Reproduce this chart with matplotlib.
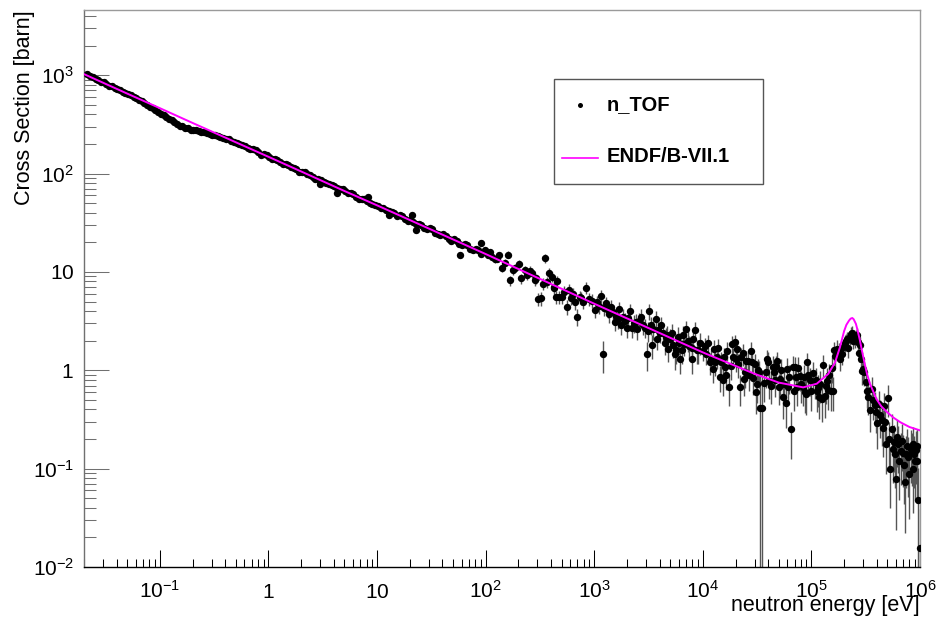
import numpy as np
import matplotlib
matplotlib.use("Agg")
import matplotlib.pyplot as plt
from matplotlib.ticker import FixedLocator, LogLocator, NullFormatter
from matplotlib.patches import Rectangle
from matplotlib.lines import Line2D

plt.rcParams['font.family'] = ['Liberation Sans', 'DejaVu Sans']
plt.rcParams['mathtext.fontset'] = 'custom'
plt.rcParams['mathtext.rm'] = 'Liberation Sans'
plt.rcParams['mathtext.it'] = 'Liberation Sans:italic'
plt.rcParams['mathtext.bf'] = 'Liberation Sans:bold'
plt.rcParams['mathtext.default'] = 'regular'

# ---------------- data ----------------
# n_TOF, thermal / epithermal region (error bars hidden by markers)
e_low = [0.0215, 0.0241, 0.0271, 0.0304, 0.0341, 0.0383, 0.0429, 0.0482, 0.0540, 0.0606,
         0.0680, 0.0763, 0.0856, 0.0961, 0.108, 0.121, 0.136, 0.152, 0.171, 0.192,
         0.215, 0.241, 0.271, 0.304, 0.341, 0.383, 0.429, 0.482, 0.540, 0.606,
         0.680, 0.763, 0.856, 0.961, 1.08, 1.21, 1.36, 1.52, 1.71, 1.92,
         2.15, 2.41, 2.71, 3.04, 3.41, 3.83, 4.29, 4.82, 5.40, 6.06,
         6.80, 7.63, 8.56, 9.61, 10.8, 12.1, 13.6, 15.2, 17.1, 19.2,
         21.5, 24.1, 27.1, 30.4, 34.1, 38.3, 42.9, 48.2, 54.0, 60.6,
         68.0, 76.3, 85.6, 2.95, 4.3, 8.2, 13.0, 21.0, 23.0, 57.5]
xs_low = [1035, 960, 885, 845, 785, 746, 705, 660, 628, 588,
          545, 502, 465, 424, 395, 362, 336, 307, 293, 280,
          274, 265, 260, 244, 242, 231, 223, 208, 201, 190,
          177, 172, 156, 154, 140, 138, 124, 122, 113, 104,
          103, 96, 88, 87, 80, 77, 70.5, 69, 63, 61.5,
          55.5, 55.5, 50, 48, 45, 43, 41, 37, 37, 33.3,
          32, 31, 27.8, 27.8, 25, 23.8, 23.4, 20.8, 20.7, 18.8,
          18.8, 16.7, 16.6, 78, 64, 58, 37.5, 37.5, 26.4, 15.0]
e_low2 = [0.0228, 0.0256, 0.0287, 0.0322, 0.0361, 0.0405, 0.0455, 0.0510, 0.0572, 0.0642,
          0.0720, 0.0808, 0.0907, 0.102, 0.114, 0.128, 0.144, 0.161, 0.181, 0.203,
          0.228, 0.256, 0.287, 0.322, 0.361, 0.405, 0.455, 0.510, 0.572, 0.642,
          0.720, 0.808, 0.907, 1.02, 1.14, 1.28, 1.44, 1.61, 1.81, 2.03,
          2.28, 2.56, 2.87, 3.22, 3.61, 4.05, 4.55, 5.10, 5.72, 6.42,
          7.20, 8.08, 9.07, 10.2, 11.4, 12.8, 14.4, 16.1, 18.1, 20.3,
          22.8, 25.6, 28.7, 32.2, 36.1, 40.5, 45.5, 51.0, 57.2, 64.2,
          72.0, 80.8, 90.7]
xs_low2 = [985, 915, 860, 805, 775, 726, 678, 645, 604, 560,
           522, 478, 441, 407, 376, 347, 316, 302, 288, 275,
           269, 263, 254, 244, 238, 227, 216, 204, 195, 184,
           176, 164, 157, 146, 141, 130, 124, 117, 112, 103.5,
           98.7, 93, 89, 82, 78.4, 74.8, 69.2, 66, 63, 58.2,
           55.5, 53, 49, 46.6, 44.5, 41.2, 39.3, 37.9, 34.3, 33.8,
           30.6, 30.3, 27, 27.1, 24.3, 24.1, 21.4, 21.5, 19.3, 19,
           17, 17.1, 15.3]

# n_TOF, 90 eV - 10 keV
e_mid = [91, 98, 104, 109, 115, 121, 127, 134, 142, 150, 159, 169, 178, 188, 202, 212, 229,
         240, 254, 270, 283, 290, 305, 326, 335, 350, 365, 380, 405, 424, 430, 448, 452, 478,
         510, 530, 560, 580, 615, 640, 660, 700, 735, 750, 780, 835, 890, 960, 1010, 1100,
         1160, 1200, 1280, 1340, 1440, 1500, 1550, 1650, 1780, 1850, 1990, 2150, 2330, 2400,
         2500, 2720, 2800, 2930, 3050, 3200, 3400, 3500, 3670, 3850, 4000, 4300, 4550, 4800,
         5000, 5300, 5700, 6000, 6400, 6700, 7000, 7300, 7900, 8000, 8500, 8800, 9100,
         1050, 1230, 1380, 1600, 1700, 1920, 2050, 2250, 2600, 3100, 3300, 3750, 4150, 4450,
         4700, 5150, 5500, 5900, 6200, 6550, 7500, 8200, 9400]
xs_mid = [19.5, 16.6, 15.0, 15.9, 14.2, 13.5, 13.6, 14.7, 11.0, 12.4, 15.0, 8.2, 10.4, 11.0, 12.0, 8.6, 10.4,
          9.2, 10.3, 9.8, 8.3, 8.6, 5.3, 5.4, 7.6, 13.8, 7.9, 9.8, 8.9, 6.8, 7.1, 5.6, 8.0, 5.6,
          5.5, 6.3, 4.4, 6.6, 5.4, 5.9, 4.9, 3.5, 5.5, 5.4, 5.0, 6.9, 5.3, 5.1, 4.1, 4.5,
          5.7, 1.46, 4.8, 4.1, 4.4, 3.9, 3.1, 3.3, 2.9, 3.5, 2.7, 4.0, 3.0, 3.1,
          2.6, 3.5, 2.9, 2.7, 1.46, 4.0, 1.8, 2.6, 3.3, 2.55, 2.4, 2.4, 2.2, 1.65,
          2.1, 1.8, 1.6, 1.9, 1.6, 1.85, 2.6, 2.0, 1.3, 1.7, 2.55, 1.6, 1.6,
          4.9, 4.3, 3.7, 3.6, 4.2, 3.2, 3.4, 2.7, 3.2, 2.5, 2.9, 2.1, 2.9, 1.9,
          2.3, 2.4, 1.45, 2.2, 1.3, 2.3, 1.75, 2.1, 1.9]
rel_err_mid = [0.06, 0.06, 0.07, 0.07, 0.08, 0.08, 0.08, 0.07, 0.10, 0.09, 0.08, 0.12, 0.10, 0.10, 0.10, 0.12, 0.11,
               0.11, 0.11, 0.12, 0.13, 0.12, 0.16, 0.16, 0.14, 0.10, 0.13, 0.12, 0.12, 0.14, 0.13, 0.15, 0.13, 0.15,
               0.15, 0.14, 0.17, 0.14, 0.15, 0.15, 0.16, 0.20, 0.15, 0.15, 0.16, 0.14, 0.16, 0.16, 0.18, 0.17,
               0.15, 0.35, 0.17, 0.18, 0.18, 0.18, 0.20, 0.20, 0.21, 0.19, 0.22, 0.18, 0.21, 0.20,
               0.22, 0.20, 0.21, 0.22, 0.32, 0.18, 0.28, 0.22, 0.20, 0.22, 0.22, 0.23, 0.23, 0.27,
               0.24, 0.26, 0.27, 0.25, 0.27, 0.25, 0.22, 0.24, 0.30, 0.26, 0.22, 0.27, 0.27,
               0.17, 0.18, 0.19, 0.19, 0.18, 0.20, 0.20, 0.22, 0.20, 0.23, 0.21, 0.24, 0.21, 0.25,
               0.23, 0.23, 0.30, 0.24, 0.30, 0.23, 0.26, 0.24, 0.25]

# n_TOF, 10 keV - 1 MeV
e_high = [1.01e4, 1.08e4, 1.16e4, 1.23e4, 1.27e4, 1.34e4, 1.43e4, 1.52e4, 1.60e4, 1.67e4,
          1.75e4, 1.84e4, 1.90e4, 1.97e4, 2.07e4, 2.19e4, 2.32e4, 2.44e4, 2.62e4, 2.75e4,
          2.91e4, 3.08e4, 3.23e4, 3.35e4, 3.50e4, 3.65e4, 3.91e4, 4.08e4, 4.39e4, 4.61e4,
          4.84e4, 5.13e4, 5.43e4, 5.82e4, 6.11e4, 6.43e4, 6.71e4, 7.05e4, 7.40e4, 7.83e4,
          8.30e4, 8.71e4, 9.15e4, 9.69e4, 1.03e5, 1.07e5, 1.12e5, 1.18e5, 1.24e5, 1.28e5,
          1.36e5, 1.43e5, 1.50e5, 1.59e5, 1.61e5, 1.73e5, 1.83e5, 1.92e5, 1.96e5, 2.08e5,
          2.18e5, 2.30e5, 2.40e5, 2.47e5, 2.57e5, 2.70e5, 2.80e5, 2.90e5, 3.00e5, 3.18e5,
          3.34e5, 3.46e5, 3.59e5, 3.85e5, 4.04e5, 4.28e5, 4.44e5, 4.66e5, 4.86e5, 5.10e5,
          5.30e5, 5.50e5, 5.75e5, 6.00e5, 6.30e5, 6.64e5, 6.90e5, 7.27e5, 7.60e5, 8.00e5,
          8.40e5, 8.70e5, 9.00e5, 9.30e5, 9.60e5, 9.90e5]
xs_high = [1.58, 1.46, 1.20, 1.03, 1.65, 1.38, 0.86, 0.79, 1.09, 1.58,
           0.67, 1.85, 1.36, 1.92, 1.65, 0.67, 1.49, 0.95, 1.23, 1.58,
           0.83, 0.60, 1.00, 0.41, 0.41, 0.74, 1.30, 0.77, 1.09, 0.79,
           1.23, 0.82, 0.53, 0.47, 0.68, 0.25, 1.09, 1.07, 0.67, 0.88,
           0.67, 0.60, 1.20, 0.80, 0.93, 0.76, 0.61, 0.53, 0.51, 1.13,
           0.70, 0.63, 0.62, 0.62, 1.60, 1.65, 1.30, 1.46, 1.71, 2.00,
           1.68, 2.35, 2.00, 2.20, 2.20, 1.92, 1.82, 0.98, 1.03, 0.76,
           0.54, 0.39, 0.64, 0.44, 0.29, 0.35, 0.31, 0.43, 0.178, 0.52,
           0.099, 0.25, 0.185, 0.079, 0.18, 0.15, 0.143, 0.074, 0.17, 0.088,
           0.147, 0.178, 0.119, 0.17, 0.048, 0.0155]
rel_err_high = [0.22, 0.22, 0.25, 0.28, 0.22, 0.25, 0.30, 0.30, 0.27, 0.22,
                0.35, 0.20, 0.25, 0.20, 0.22, 0.35, 0.25, 0.30, 0.27, 0.22,
                0.32, 0.40, 0.30, 1.30, 1.30, 0.35, 0.25, 0.33, 0.27, 0.32,
                0.25, 0.32, 0.40, 0.45, 0.35, 0.50, 0.27, 0.27, 0.35, 0.30,
                0.35, 0.38, 0.25, 0.32, 0.30, 0.33, 0.38, 0.40, 0.42, 0.27,
                0.35, 0.38, 0.38, 0.38, 0.22, 0.22, 0.25, 0.22, 0.20, 0.18,
                0.20, 0.16, 0.18, 0.17, 0.17, 0.18, 0.19, 0.27, 0.26, 0.30,
                0.35, 0.40, 0.33, 0.38, 0.45, 0.42, 0.45, 0.38, 0.50, 0.35,
                0.60, 0.45, 0.50, 0.70, 0.50, 0.55, 0.55, 0.70, 0.50, 0.65,
                0.55, 0.50, 0.60, 0.50, 1.10, 1.50]
e_high2 = [1.05e4, 1.12e4, 1.20e4, 1.30e4, 1.38e4, 1.47e4, 1.56e4, 1.63e4, 1.80e4, 2.00e4,
           2.12e4, 2.25e4, 2.38e4, 2.52e4, 2.68e4, 2.83e4, 3.00e4, 3.15e4, 3.30e4, 3.78e4,
           4.00e4, 4.25e4, 4.50e4, 4.72e4, 5.00e4, 5.28e4, 5.62e4, 5.95e4, 6.27e4, 6.88e4,
           7.22e4, 7.60e4, 8.05e4, 8.50e4, 8.90e4, 9.40e4, 1.00e5, 1.10e5, 1.15e5, 1.20e5,
           1.32e5, 1.40e5, 1.46e5, 1.55e5, 1.66e5, 1.78e5, 2.02e5, 2.13e5, 2.25e5, 2.35e5,
           2.52e5, 2.62e5, 2.75e5, 2.85e5, 3.08e5, 3.25e5, 3.70e5, 3.95e5, 4.15e5, 4.55e5,
           4.75e5, 5.20e5, 5.62e5, 5.88e5, 6.15e5, 6.47e5, 6.77e5, 7.05e5, 7.45e5, 7.80e5,
           8.20e5, 8.55e5, 8.85e5, 9.15e5, 9.45e5]
xs_high2 = [1.75, 1.90, 1.30, 1.20, 1.70, 1.20, 1.35, 0.90, 1.10, 1.30,
            1.15, 1.35, 0.82, 1.25, 0.90, 1.22, 1.15, 0.72, 0.95, 0.95,
            1.20, 0.70, 0.95, 1.10, 0.68, 1.00, 0.72, 1.02, 0.85, 0.62,
            0.85, 1.05, 0.72, 0.85, 0.58, 0.90, 0.62, 0.80, 0.66, 0.72,
            0.55, 0.78, 0.90, 1.05, 1.40, 1.55, 1.90, 2.10, 2.20, 2.40,
            2.05, 2.30, 1.50, 1.30, 0.95, 0.62, 0.50, 0.38, 0.45, 0.26,
            0.30, 0.20, 0.16, 0.14, 0.21, 0.12, 0.19, 0.11, 0.14, 0.13,
            0.16, 0.10, 0.14, 0.155, 0.12]
rel_err_high2 = [0.22, 0.20, 0.25, 0.27, 0.22, 0.27, 0.25, 0.30, 0.28, 0.26,
                 0.27, 0.25, 0.33, 0.26, 0.32, 0.27, 0.27, 0.35, 0.30, 0.30,
                 0.27, 0.35, 0.30, 0.28, 0.35, 0.30, 0.35, 0.30, 0.32, 0.38,
                 0.32, 0.30, 0.35, 0.32, 0.40, 0.32, 0.38, 0.33, 0.36, 0.35,
                 0.40, 0.34, 0.30, 0.30, 0.24, 0.22, 0.20, 0.18, 0.17, 0.17,
                 0.18, 0.17, 0.20, 0.22, 0.27, 0.33, 0.37, 0.40, 0.38, 0.50,
                 0.45, 0.50, 0.55, 0.55, 0.50, 0.60, 0.50, 0.60, 0.55, 0.60,
                 0.55, 0.65, 0.55, 0.55, 0.60]

# ENDF/B-VII.1 evaluation
e_endf = [0.02, 0.05, 0.1, 0.2, 0.5, 1, 2, 5, 10, 100, 1000, 1e4, 3e4, 5e4, 8.4e4,
          1.12e5, 1.43e5, 1.65e5, 1.83e5, 2.0e5, 2.1e5, 2.22e5, 2.3e5, 2.38e5, 2.45e5,
          2.57e5, 2.65e5, 2.8e5, 2.95e5, 3.1e5, 3.25e5, 3.46e5, 3.97e5, 4.4e5, 4.98e5,
          5.7e5, 6.6e5, 8e5, 1e6]
xs_endf = [1025, 650, 462, 327, 208, 148, 105, 66.5, 47.5, 15.2, 4.75, 1.52, 0.92, 0.75, 0.67,
           0.73, 0.92, 1.2, 1.71, 2.5, 2.9, 3.2, 3.35, 3.4, 3.3,
           2.96, 2.6, 2.0, 1.5, 1.16, 0.92, 0.73, 0.51, 0.43, 0.375,
           0.33, 0.296, 0.265, 0.245]

x_ticks = [1e-1, 1, 10, 1e2, 1e3, 1e4, 1e5, 1e6]
x_tick_labels = ['$10^{-1}$', '$1$', '$10$', '$10^{2}$', '$10^{3}$', '$10^{4}$', '$10^{5}$', '$10^{6}$']
y_ticks = [1e-2, 1e-1, 1, 10, 1e2, 1e3]
y_tick_labels = ['$10^{-2}$', '$10^{-1}$', '$1$', '$10$', '$10^{2}$', '$10^{3}$']

# ---------------- figure ----------------
W, H = 938, 617
fig = plt.figure(figsize=(W / 100, H / 100), dpi=100)

def fx(px):
    return px / W

def fy(py):
    return 1 - py / H

ax_l, ax_r, ax_t, ax_b = 84, 920, 10, 567
ax = fig.add_axes([fx(ax_l), fy(ax_b), fx(ax_r) - fx(ax_l), fy(ax_t) - fy(ax_b)])
ax.set_xscale('log')
ax.set_yscale('log')
ax.set_xlim(0.02, 1e6)
ax.set_ylim(0.01, 4600)

# error bars
e_err = np.array(e_mid + e_high + e_high2)
s_err = np.array(xs_mid + xs_high + xs_high2)
r_err = np.array(rel_err_mid + rel_err_high + rel_err_high2)
up = s_err * r_err
lo = np.minimum(up, s_err * 0.99999)
ax.errorbar(e_err, s_err, yerr=[lo, up], fmt='none', ecolor='#555555',
            elinewidth=1.0, capsize=0, zorder=2)

e_all = np.array(e_low + e_low2 + e_mid + e_high + e_high2)
s_all = np.array(xs_low + xs_low2 + xs_mid + xs_high + xs_high2)
ax.plot(e_all, s_all, 'o', color='black', ms=5.3, mew=0, zorder=3)

ax.plot(e_endf, xs_endf, color='#ff00ff', lw=1.4, zorder=4)

# ticks
ax.set_xticks(x_ticks, x_tick_labels)
ax.xaxis.set_minor_locator(LogLocator(base=10, subs=np.arange(2, 10), numticks=30))
ax.xaxis.set_minor_formatter(NullFormatter())
ax.set_yticks(y_ticks, y_tick_labels)
ax.yaxis.set_minor_locator(LogLocator(base=10, subs=np.arange(2, 10), numticks=30))
ax.yaxis.set_minor_formatter(NullFormatter())

ax.tick_params(axis='x', which='major', direction='in', length=12.2, width=0.75,
               color='black', pad=22.3, labelsize=15, top=False)
ax.tick_params(axis='x', which='minor', direction='in', length=6, width=0.75,
               color='black', top=False)
ax.tick_params(axis='y', which='major', direction='in', length=18, width=0.75,
               color='#707070', pad=7.2, labelsize=15, right=False)
ax.tick_params(axis='y', which='minor', direction='in', length=8.8, width=0.75,
               color='#707070', right=False)
for lab in ax.get_xticklabels():
    lab.set_va('baseline')

ax.spines['bottom'].set_color('black')
ax.spines['bottom'].set_linewidth(1.0)
ax.spines['left'].set_color('#707070')
ax.spines['left'].set_linewidth(1.0)
ax.spines['top'].set_color('#9a9a9a')
ax.spines['right'].set_color('#9a9a9a')
ax.spines['top'].set_linewidth(1.0)
ax.spines['right'].set_linewidth(1.0)

# axis titles
fig.text(fx(920), fy(611), 'neutron energy [eV]', ha='right', va='baseline', fontsize=15.5)
fig.text(fx(25), fy(10), 'Cross Section [barn]', rotation=90, ha='center', va='top', fontsize=15.5)

# legend (manual, ROOT style)
lx0, ly0, lx1, ly1 = 554, 79, 763, 184
fig.add_artist(Rectangle((fx(lx0), fy(ly1)), fx(lx1) - fx(lx0), fy(ly0) - fy(ly1),
                         transform=fig.transFigure, facecolor='white',
                         edgecolor='#555555', lw=1.0, zorder=10))
fig.add_artist(Line2D([fx(579.5)], [fy(105)], marker='o', color='black', ms=3.6, mew=0,
                      transform=fig.transFigure, zorder=11))
fig.text(fx(607), fy(105), 'n_TOF', ha='left', va='center', fontsize=14.5,
         fontweight='bold', zorder=11)
fig.add_artist(Line2D([fx(562), fx(598)], [fy(157.5), fy(157.5)], color='#ff00ff', lw=1.2,
                      transform=fig.transFigure, zorder=11))
fig.text(fx(607), fy(157), 'ENDF/B-VII.1', ha='left', va='center', fontsize=14.5,
         fontweight='bold', zorder=11)

fig.savefig('out.png', dpi=100)
